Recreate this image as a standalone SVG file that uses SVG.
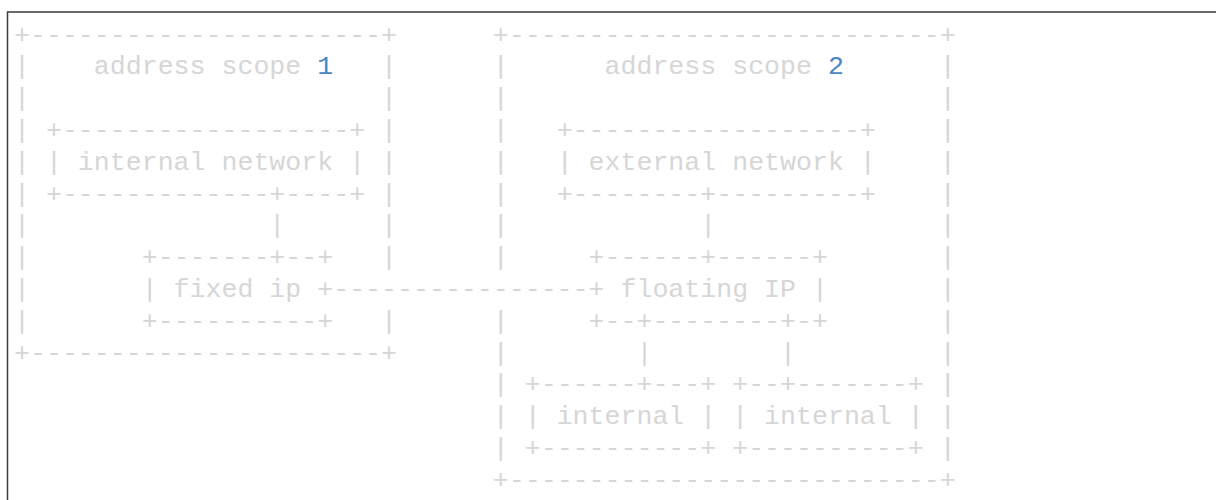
<svg xmlns="http://www.w3.org/2000/svg" width="1216" height="500" viewBox="0 0 1216 500">
<style>
text{font-family:"Liberation Mono","Courier New",monospace;font-size:26.6px;fill:#d6d6d6;white-space:pre}
.n{fill:#4a86bd}
.frame{fill:none;stroke:#3a3a3a;stroke-width:1.5}
</style>
<rect width="1216" height="500" fill="#ffffff"/>
<path class="frame" d="M7.5 500 V12 H1216"/>
<g id="address-scope-1" xml:space="preserve">
<text x="14" y="42.5">+----------------------+</text>
<text x="14" y="74.3">|    address scope <tspan class="n">1</tspan>   |</text>
<text x="14" y="106.1">|                      |</text>
<text x="14" y="137.9">| +------------------+ |</text>
<text x="14" y="169.7">| | internal network | |</text>
<text x="14" y="201.5">| +-------------+----+ |</text>
<text x="14" y="233.3">|               |      |</text>
<text x="14" y="265.1">|       +-------+--+   |</text>
<text x="14" y="296.9">|       | fixed ip </text>
<text x="14" y="328.7">|       +----------+   |</text>
<text x="14" y="360.5">+----------------------+</text>
</g>
<g id="address-scope-2" xml:space="preserve">
<text x="492.8" y="42.5">+---------------------------+</text>
<text x="492.8" y="74.3">|      address scope <tspan class="n">2</tspan>      |</text>
<text x="492.8" y="106.1">|                           |</text>
<text x="492.8" y="137.9">|   +------------------+    |</text>
<text x="492.8" y="169.7">|   | external network |    |</text>
<text x="492.8" y="201.5">|   +--------+---------+    |</text>
<text x="492.8" y="233.3">|            |              |</text>
<text x="492.8" y="265.1">|     +------+------+       |</text>
<text x="604.52" y="296.9"> floating IP |       |</text>
<text x="492.8" y="328.7">|     +--+--------+-+       |</text>
<text x="492.8" y="360.5">|        |        |         |</text>
<text x="492.8" y="392.3">| +------+---+ +--+-------+ |</text>
<text x="492.8" y="424.1">| | internal | | internal | |</text>
<text x="492.8" y="455.9">| +----------+ +----------+ |</text>
<text x="492.8" y="487.7">+---------------------------+</text>
</g>
<g id="connectors" xml:space="preserve">
<text x="317.24" y="296.9">+----------------+</text>
</g>
</svg>
